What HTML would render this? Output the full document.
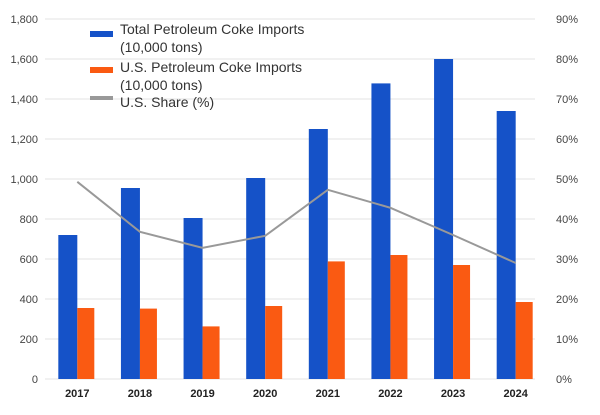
<!DOCTYPE html>
<html><head><meta charset="utf-8"><style>
body{margin:0;background:#fff;font-family:"Liberation Sans",sans-serif;}
svg text{font-family:"Liberation Sans",sans-serif;}
</style></head><body>
<svg id="chart" width="600" height="410" xmlns="http://www.w3.org/2000/svg">
<g id="grid"></g><g id="bars"></g><g id="line"></g><g id="axes"></g>
<g>
<rect x="90" y="31" width="23" height="6" fill="#1552c8"/>
<text x="120" y="34" font-size="14" fill="#333">Total Petroleum Coke Imports</text>
<text x="120" y="52" font-size="14" fill="#333">(10,000 tons)</text>
<rect x="90" y="67" width="23" height="6" fill="#fa5a12"/>
<text x="120" y="72" font-size="14" fill="#333">U.S. Petroleum Coke Imports</text>
<text x="120" y="90" font-size="14" fill="#333">(10,000 tons)</text>
<rect x="90" y="96" width="23" height="4" fill="#999"/>
<text x="120" y="107" font-size="14" fill="#333">U.S. Share (%)</text>
</g>
</svg>
<script>
const categories=["2017","2018","2019","2020","2021","2022","2023","2024"];
const totalImports=[720,955,805,1005,1250,1478,1600,1340];
const usImports=[355,352,263,365,588,620,570,385];
const usShare=[49.3,36.8,32.8,35.8,47.3,42.8,36,29];
const leftTicks=[0,200,400,600,800,1000,1200,1400,1600,1800];
const rightTicks=[0,10,20,30,40,50,60,70,80,90];
const NS="http://www.w3.org/2000/svg";
const x0=46,x1=547,y0=379,y1=19;
const bw=(x1-x0)/categories.length;
const yL=v=>y0-(v/1800)*(y0-y1);
const yR=v=>y0-(v/90)*(y0-y1);
const xc=i=>x0+bw*(i+0.5);
function mk(tag,attrs,parent){const e=document.createElementNS(NS,tag);for(const k in attrs)e.setAttribute(k,attrs[k]);document.getElementById(parent).appendChild(e);return e;}
leftTicks.forEach((t,i)=>{
 const g=mk("line",{x1:45,x2:535,y1:yL(t),y2:yL(t),stroke:"#e3e3e3","stroke-width":1},"grid");
 
 
 const l=mk("text",{x:38,y:yL(t)+4,"text-anchor":"end","font-size":11,fill:"#444"},"axes");
 l.textContent=t.toLocaleString("en-US");
 
 
});
rightTicks.forEach(t=>{
 const l=mk("text",{x:556,y:yR(t)+4,"font-size":11,fill:"#444"},"axes");
 l.textContent=t+"%";
 
 
});
categories.forEach((c,i)=>{
 const b=mk("rect",{x:xc(i)-19,y:yL(totalImports[i]),width:19,height:y0-yL(totalImports[i]),fill:"#1552c8"},"bars");
 
 
 const o=mk("rect",{x:xc(i),y:yL(usImports[i]),width:17,height:y0-yL(usImports[i]),fill:"#fa5a12"},"bars");
 
 
 const l=mk("text",{x:xc(i),y:397,"text-anchor":"middle","font-size":11,"font-weight":"bold",fill:"#222"},"axes");
 l.textContent=c;
 
 
});
const p=mk("polyline",{points:usShare.map((v,i)=>xc(i)+","+yR(v)).join(" "),fill:"none",stroke:"#999","stroke-width":2},"line");


</script>
</body></html>
